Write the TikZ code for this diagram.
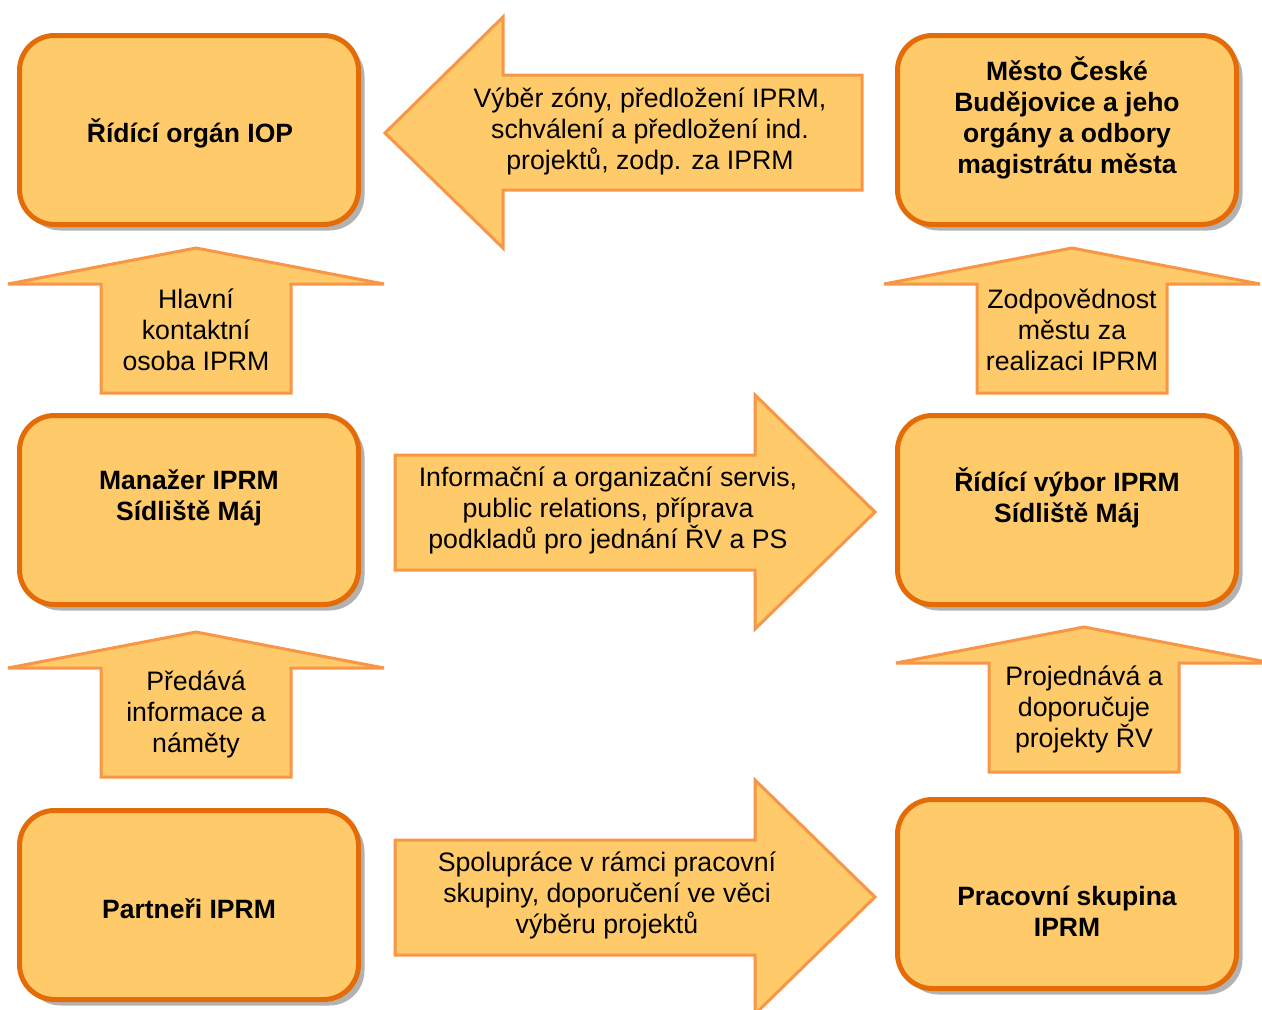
\documentclass[tikz,border=0pt]{standalone}
\usepackage{fontspec}
\setmainfont{Liberation Sans}
\definecolor{boxfill}{HTML}{FFCA69}
\definecolor{boxline}{HTML}{E36C09}
\definecolor{arrowline}{HTML}{F79646}
\tikzset{
  orgbox/.style = {draw = boxline, line width = 5pt, fill = boxfill, rounded corners = 35pt},
  boxshadow/.style = {fill = black!30, rounded corners = 35pt},
  blockarrow/.style = {draw = arrowline, line width = 3pt, fill = boxfill, line join = miter},
  boxlabel/.style = {align = center, font = \fontsize{26.5}{31}\selectfont\bfseries},
  arrowlabel/.style = {align = center, font = \fontsize{26.7}{31}\selectfont}
}
\begin{document}
\begin{tikzpicture}[x = 1pt, y = -1pt]
\useasboundingbox (0,0) rectangle (1262,1010);
\foreach \x/\y in {19.5/35.5, 897.5/35.5, 19.5/415.5, 897.5/415.5, 19.5/810.5, 897.5/799.5} {
  \fill [boxshadow] (\x+6,\y+6) rectangle ++(339,189);
  \draw [orgbox] (\x,\y) rectangle ++(339,189);
}
\draw [blockarrow] (862,75) -- (503,75) -- (503,17) -- (385,133) -- (503,248) -- (503,190) -- (862,190) -- cycle;
\foreach \cx/\tip in {196/248, 1072/248, 196/632, 1084/627}
  \draw [blockarrow] (\cx-95,\tip+145) -- (\cx-95,\tip+36) -- (\cx-188,\tip+36) -- (\cx,\tip) -- (\cx+188,\tip+36) -- (\cx+95,\tip+36) -- (\cx+95,\tip+145) -- cycle;
\foreach \mid in {512, 897}
  \draw [blockarrow] (395,\mid-57) -- (755,\mid-57) -- (755,\mid-117) -- (875,\mid) -- (755,\mid+117) -- (755,\mid+58) -- (395,\mid+58) -- cycle;
\node [boxlabel] (ridorg) at (190,133) {Řídící orgán IOP};
\node [boxlabel] (mesto) at (1067,118) {Město České\\Budějovice a jeho\\orgány a odbory\\magistrátu města};
\node [boxlabel] (manazer) at (189,498) {Manažer IPRM\\Sídliště Máj};
\node [boxlabel] (ridvybor) at (1067,498) {Řídící výbor IPRM\\Sídliště Máj};
\node [boxlabel] (partneri) at (189,909) {Partneři IPRM};
\node [boxlabel] (pracskup) at (1067,911) {Pracovní skupina\\IPRM};
\node [arrowlabel] (predlozeni) at (650,131) {Výběr zóny, předložení IPRM,\\schválení a předložení ind.\\projektů, zodp. za IPRM};
\node [arrowlabel] (kontakt) at (196,330) {Hlavní\\kontaktní\\osoba IPRM};
\node [arrowlabel] (zodpovednost) at (1072,330) {Zodpovědnost\\městu za\\realizaci IPRM};
\node [arrowlabel] (servis) at (608,510) {Informační a organizační servis,\\public relations, příprava\\podkladů pro jednání ŘV a PS};
\node [arrowlabel] (predava) at (196,714) {Předává\\informace a\\náměty};
\node [arrowlabel] (projednava) at (1084,709) {Projednává a\\doporučuje\\projekty ŘV};
\node [arrowlabel] (spoluprace) at (607,895) {Spolupráce v rámci pracovní\\skupiny, doporučení ve věci\\výběru projektů};
\end{tikzpicture}
\end{document}
